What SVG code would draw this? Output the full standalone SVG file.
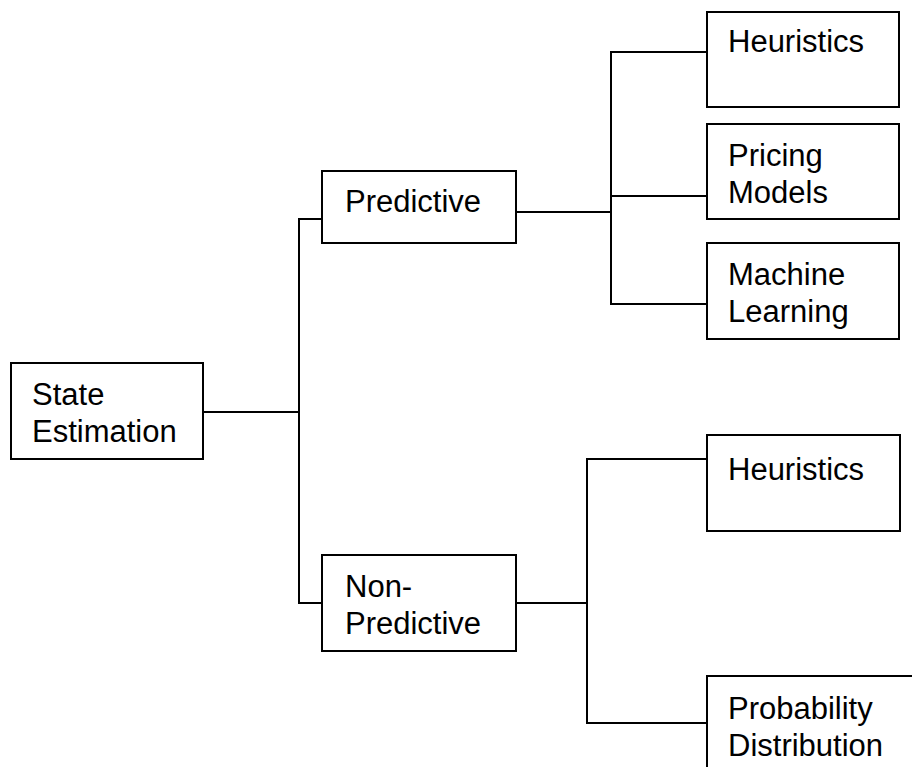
<svg xmlns="http://www.w3.org/2000/svg" width="912" height="767" viewBox="0 0 912 767">
  <style>
    .box { fill: #fff; stroke: #000; stroke-width: 2; }
    .wire { fill: none; stroke: #000; stroke-width: 2; }
    text { font-family: "Liberation Sans", Arial, sans-serif; font-size: 31px; fill: #000; }
  </style>
  <rect width="912" height="767" fill="#fff"/>

  <g id="connectors">
    <polyline class="wire" points="203,412 299,412"/>
    <polyline class="wire" points="322,219 299,219 299,603 322,603"/>
    <polyline class="wire" points="516,212 611,212"/>
    <polyline class="wire" points="707,52 611,52 611,304 707,304"/>
    <polyline class="wire" points="611,196 707,196"/>
    <polyline class="wire" points="516,603 587,603"/>
    <polyline class="wire" points="707,459 587,459 587,723 707,723"/>
  </g>

  <g id="state-estimation">
    <rect class="box" x="11" y="363" width="192" height="96"/>
    <text x="32" y="405">State</text>
    <text x="32" y="442">Estimation</text>
  </g>

  <g id="predictive">
    <rect class="box" x="322" y="171" width="194" height="72"/>
    <text x="345" y="212">Predictive</text>
  </g>

  <g id="non-predictive">
    <rect class="box" x="322" y="555" width="194" height="96"/>
    <text x="345" y="597">Non-</text>
    <text x="345" y="634">Predictive</text>
  </g>

  <g id="heuristics-predictive">
    <rect class="box" x="707" y="12" width="192" height="95"/>
    <text x="728" y="52">Heuristics</text>
  </g>

  <g id="pricing-models">
    <rect class="box" x="707" y="124" width="192" height="95"/>
    <text x="728" y="166">Pricing</text>
    <text x="728" y="203">Models</text>
  </g>

  <g id="machine-learning">
    <rect class="box" x="707" y="243" width="192" height="96"/>
    <text x="728" y="285">Machine</text>
    <text x="728" y="322">Learning</text>
  </g>

  <g id="heuristics-non-predictive">
    <rect class="box" x="707" y="435" width="193" height="96"/>
    <text x="728" y="480">Heuristics</text>
  </g>

  <g id="probability-distribution">
    <rect class="box" x="707" y="676" width="215" height="100"/>
    <text x="728" y="719">Probability</text>
    <text x="728" y="756">Distribution</text>
  </g>
</svg>
